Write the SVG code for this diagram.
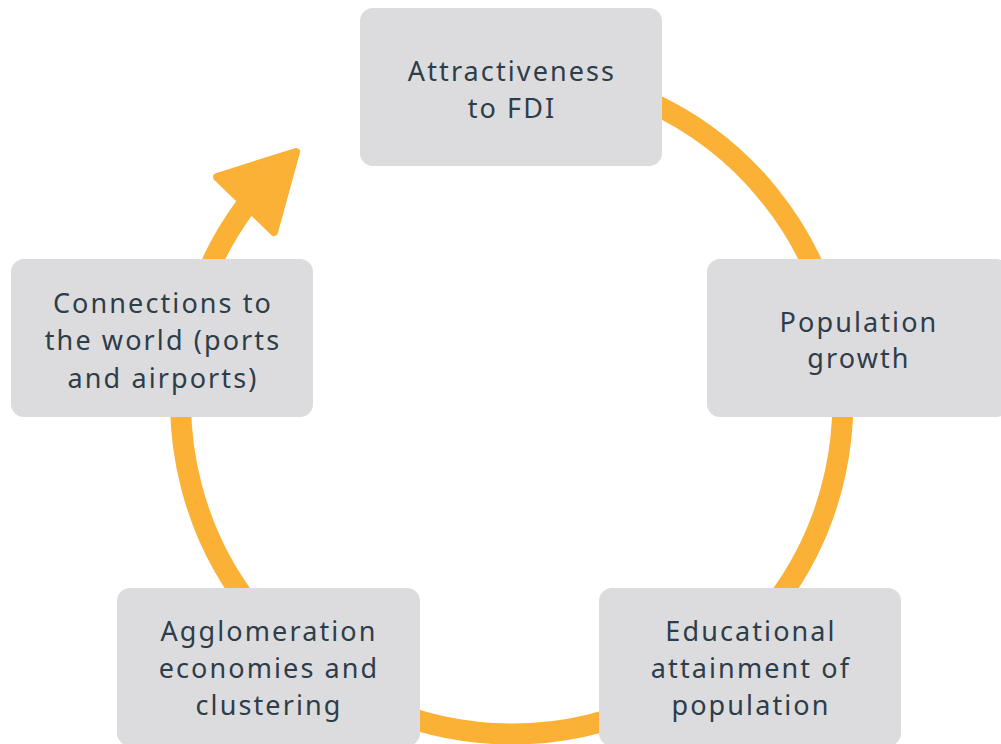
<svg xmlns="http://www.w3.org/2000/svg" width="1001" height="744" viewBox="0 0 1001 744">
<style>
.box{fill:#dcdcdf}
.lbl{font-family:"Noto Sans","Liberation Sans",sans-serif;font-size:27px;fill:#2e3d4a;text-anchor:middle;letter-spacing:2.1px}
.ring{fill:none;stroke:#fbb136;stroke-width:21}
.head{fill:#fbb136;stroke:#fbb136;stroke-width:8;stroke-linejoin:round}
</style>
<rect width="1001" height="744" fill="#ffffff"/>
<g id="connectors">
<path class="ring" d="M 511.5 72 A 331 331 0 1 1 245 207"/>
<polygon class="head" points="296,152 217,177 274,232"/>
</g>
<g id="node-fdi">
<rect class="box" x="360" y="8" width="302" height="158" rx="13"/>
<text class="lbl" x="512" y="81">Attractiveness</text>
<text class="lbl" x="512" y="118">to FDI</text>
</g>
<g id="node-population">
<rect class="box" x="707" y="259" width="302" height="158" rx="13"/>
<text class="lbl" x="859" y="332">Population</text>
<text class="lbl" x="859" y="368">growth</text>
</g>
<g id="node-education">
<rect class="box" x="599" y="588" width="302" height="158" rx="13"/>
<text class="lbl" x="751" y="641">Educational</text>
<text class="lbl" x="751" y="678">attainment of</text>
<text class="lbl" x="751" y="715">population</text>
</g>
<g id="node-agglomeration">
<rect class="box" x="117" y="588" width="303" height="158" rx="13"/>
<text class="lbl" x="269" y="641">Agglomeration</text>
<text class="lbl" x="269" y="678">economies and</text>
<text class="lbl" x="269" y="715">clustering</text>
</g>
<g id="node-connections">
<rect class="box" x="11" y="259" width="302" height="158" rx="13"/>
<text class="lbl" x="163" y="313">Connections to</text>
<text class="lbl" x="163" y="350">the world (ports</text>
<text class="lbl" x="163" y="388">and airports)</text>
</g>
</svg>
